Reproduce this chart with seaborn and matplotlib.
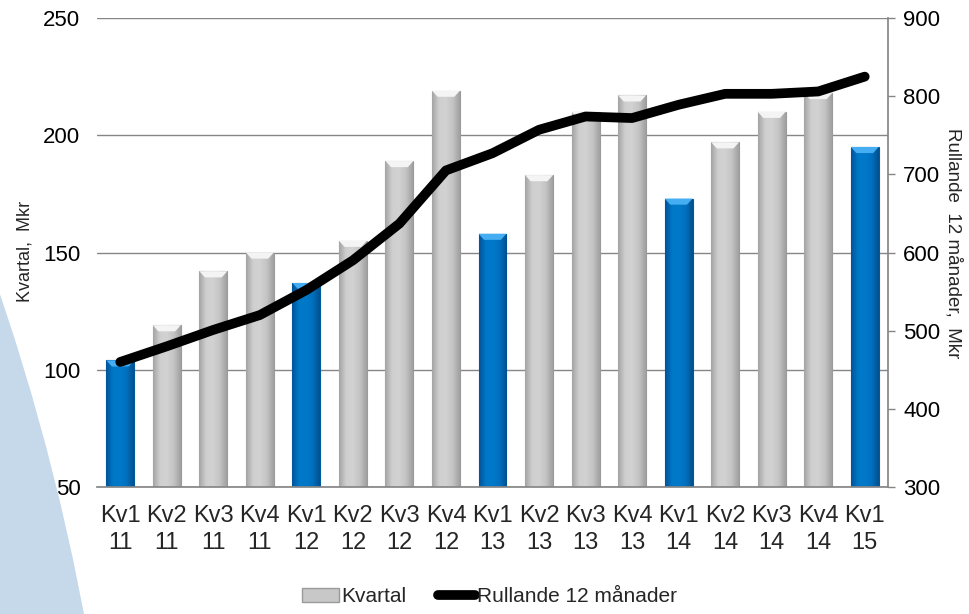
import numpy as np
import matplotlib
matplotlib.use("Agg")
import matplotlib.pyplot as plt
import seaborn as sns
from matplotlib.patches import Circle, Patch, Polygon
from matplotlib.lines import Line2D
from matplotlib.colors import LinearSegmentedColormap

quarters = ["Kv1", "Kv2", "Kv3", "Kv4", "Kv1", "Kv2", "Kv3", "Kv4", "Kv1",
            "Kv2", "Kv3", "Kv4", "Kv1", "Kv2", "Kv3", "Kv4", "Kv1"]
years = ["11", "11", "11", "11", "12", "12", "12", "12", "13",
         "13", "13", "13", "14", "14", "14", "14", "15"]
kvartal = [104, 119, 142, 150, 137, 155, 189, 219, 158,
           183, 210, 217, 173, 197, 210, 218, 195]
rullande = [460, 480, 501, 520, 552, 590, 637, 705, 727,
            757, 774, 772, 789, 803, 803, 806, 825]

labels = [f"{q}\n{y}" for q, y in zip(quarters, years)]
blue = "#0070C0"
grey = "#C8C8C8"
colors = [blue if q == "Kv1" else grey for q in quarters]

sns.set_theme(style="white")
plt.rcParams["font.family"] = ["Liberation Sans", "DejaVu Sans"]

fig = plt.figure(figsize=(9.69, 6.14), dpi=100)
ax = fig.add_axes([0.1001, 0.2068, 0.8163, 0.7639])
ax.patch.set_alpha(0)

# light blue background arc on the left
fig.add_artist(Circle((-22.29, -4.36), 23.53, transform=fig.dpi_scale_trans,
                      color="#C5D9EB", zorder=-1))

sns.barplot(x=labels, y=kvartal, hue=labels, palette=colors, legend=False,
            saturation=1, width=0.6, ax=ax, zorder=2)

ax.set_ylim(50, 250)
ax.set_xlim(-0.5, len(labels) - 0.5)

# cylinder-like shading and a bevelled top on each bar
grey_cmap = LinearSegmentedColormap.from_list(
    "g", ["#A4A4A4", "#CFCFCF", "#D2D2D2", "#C4C4C4", "#A0A0A0"])
blue_cmap = LinearSegmentedColormap.from_list(
    "b", ["#00539A", "#0078C8", "#0079CA", "#006FBE", "#00508F"])
grad = np.linspace(0, 1, 64).reshape(1, -1)
bevel = 2.6  # in data units, about 6 px
for bar, c in zip(ax.patches, colors):
    x0, w = bar.get_x(), bar.get_width()
    top = bar.get_height()
    im = ax.imshow(grad, extent=[x0, x0 + w, 50, top], aspect="auto",
                   cmap=blue_cmap if c == blue else grey_cmap,
                   zorder=2.5, interpolation="bicubic")
    im.set_clip_path(bar)
    bar.set_edgecolor("#005A9E" if c == blue else "#9A9A9A")
    bar.set_linewidth(0.8)
    inset = w * 0.2
    ax.add_patch(Polygon([(x0, top), (x0 + w, top), (x0 + w - inset, top - bevel),
                          (x0 + inset, top - bevel)], closed=True,
                         facecolor="#45AEF2" if c == blue else "#F4F4F4",
                         edgecolor="none", zorder=2.6))

ax.set_ylim(50, 250)
ax.set_xlim(-0.5, len(labels) - 0.5)
ax.set_yticks([50, 100, 150, 200, 250])
ax.yaxis.grid(True, color="#868686", lw=1)
ax.set_axisbelow(True)
for s in ["left", "top", "right"]:
    ax.spines[s].set_visible(False)
ax.spines["bottom"].set_color("#868686")
ax.tick_params(axis="y", length=0, pad=12, labelsize=16, labelcolor="black")
ax.tick_params(axis="x", length=0, pad=13)
for t in ax.get_xticklabels():
    t.set_fontsize(17)
    t.set_linespacing(1.3)
ax.set_xlabel("")
ax.set_ylabel("Kvartal,  Mkr", fontsize=13)
ax.yaxis.set_label_coords(-0.091, 0.503)
ax.yaxis.label.set_va("center")

ax2 = ax.twinx()
sns.lineplot(x=np.arange(len(rullande)), y=rullande, ax=ax2, color="black",
             lw=7, solid_capstyle="round", solid_joinstyle="round", zorder=5)
ax2.set_ylim(300, 900)
ax2.set_yticks(np.arange(300, 901, 100))
for s in ["left", "top", "bottom"]:
    ax2.spines[s].set_visible(False)
ax2.spines["right"].set_color("#868686")
ax2.tick_params(axis="y", length=5, width=1, color="#868686", direction="out",
                pad=6, labelsize=16, labelcolor="black", right=True)
ax2.grid(False)
ax2.set_ylabel("Rullande  12 månader,  Mkr", fontsize=13.5, rotation=-90)
ax2.yaxis.set_label_coords(1.083, 0.52)
ax2.yaxis.label.set_va("center")
ax2.yaxis.label.set_ha("center")

handles = [Patch(facecolor=grey, edgecolor="#9A9A9A", label="Kvartal"),
           Line2D([0], [0], color="black", lw=7, solid_capstyle="round",
                  label="Rullande 12 månader")]
fig.legend(handles=handles, loc="center", bbox_to_anchor=(0.505, 0.028),
           ncol=2, frameon=False, handlelength=1.8, handleheight=0.6,
           handletextpad=0.1, columnspacing=1.5,
           prop={"size": 15})

fig.savefig("out.png", dpi=100)
